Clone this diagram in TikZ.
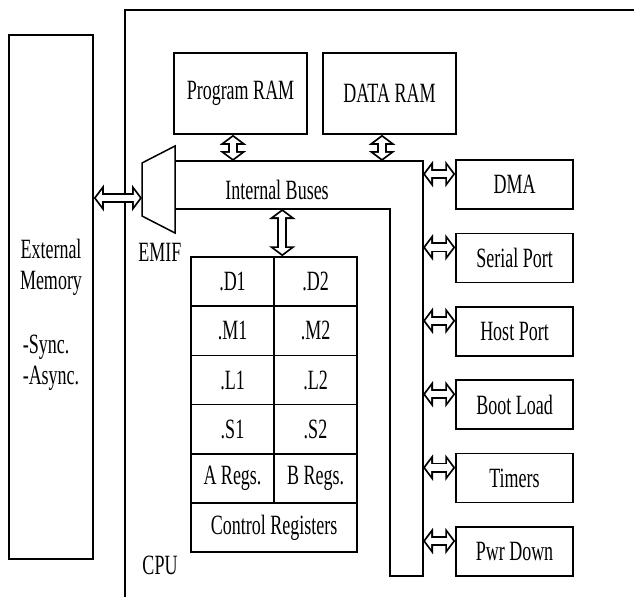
\documentclass[tikz,border=0pt]{standalone}
\usepackage{fontspec}
\setmainfont{Liberation Serif}
\usepackage{graphicx}
\usetikzlibrary{arrows.meta}
\newcommand{\tall}[1]{\scalebox{1}[1.55]{#1}}
\tikzset{
    frame/.style={draw=black, line width=1.5pt},
    unit/.style={rectangle, frame, align=center, inner sep=0pt, font=\fontsize{18}{31}\selectfont},
    cell/.style={unit, minimum width=83pt, minimum height=49.2pt},
    periph/.style={unit, minimum width=117pt, minimum height=49pt},
    lbl/.style={inner sep=0pt, font=\fontsize{18}{31}\selectfont},
    link/.style={draw=black, line width=10pt, {Triangle[length=10pt, width=26pt]}-{Triangle[length=10pt, width=26pt]},
        postaction={draw=white, line width=6.4pt, shorten <=2.3pt, shorten >=2.3pt,
            {Triangle[length=5.9pt, width=15.4pt]}-{Triangle[length=5.9pt, width=15.4pt]}}}
}
\begin{document}
\begin{tikzpicture}[x=1pt, y=-1pt]
    \useasboundingbox (0,0) rectangle (634,597);
    % CPU boundary (runs off the page to the right and bottom)
    \draw[frame, line width=1.2pt] (634,10) -- (125,10) -- (125,597);
    \node[lbl] (cpulbl) at (160,565) {\tall{CPU}};

    % external memory
    \node[unit, minimum width=84pt, minimum height=524pt] (ext) at (51,297) {};
    \node[lbl, align=center] (extname) at (51,267.5) {\tall{External}\\\tall{Memory}};
    \node[lbl, align=left] (extkind) at (51,362.5) {\tall{-Sync.}\\\tall{-Async.}};

    % EMIF and internal buses
    \draw[frame] (142,163) -- (175,146) -- (175,233) -- (142,216) -- cycle;
    \coordinate (emif) at (142,198);
    \node[lbl] (emiflbl) at (160,252) {\tall{EMIF}};
    \draw[frame] (175,161) -- (423,161) -- (423,576) -- (390,576) -- (390,209) -- (175,209);
    \coordinate (bustop) at (175,161);
    \coordinate (businner) at (390,209);
    \coordinate (busright) at (423,161);
    \node[lbl] (buslbl) at (277,190) {\tall{Internal Buses}};

    % memories
    \node[unit, minimum width=133pt, minimum height=81pt] (pram) at (240.5,93.5) {\tall{Program RAM}};
    \node[unit, minimum width=133pt, minimum height=81pt] (dram) at (389.5,93.5) {\tall{DATA RAM}};

    % register file
    \foreach \a/\b [count=\i] in {.D1/.D2, .M1/.M2, .L1/.L2, .S1/.S2, A Regs./B Regs.} {
        \node[cell] (ra\i) at (232.5,{281.6+(\i-1)*49.2}) {\tall{\a}};
        \node[cell] (rb\i) at (315.5,{281.6+(\i-1)*49.2}) {\tall{\b}};
    }
    \node[cell, minimum width=166pt] (ctrl) at (274,527.6) {\tall{Control Registers}};

    % peripherals
    \foreach \name/\txt [count=\i] in {dma/DMA, serial/Serial Port, host/Host Port, boot/Boot Load, timer/Timers, pwr/Pwr Down} {
        \node[periph] (\name) at (514.5,{184.5+(\i-1)*73.4}) {\tall{\txt}};
        \draw[link] ([yshift=10.5pt]\name.west -| busright) -- ([yshift=10.5pt]\name.west);
    }

    \draw[link] (ext.east |- emif) -- (emif);
    \draw[link] ([xshift=-7.5pt]pram.south) -- ([xshift=-7.5pt]pram.south |- bustop);
    \draw[link] ([xshift=-7.5pt]dram.south) -- ([xshift=-7.5pt]dram.south |- bustop);
    \draw[link] ([xshift=9pt]rb1.north west |- businner) -- ([xshift=9pt]rb1.north west);
\end{tikzpicture}
\end{document}
